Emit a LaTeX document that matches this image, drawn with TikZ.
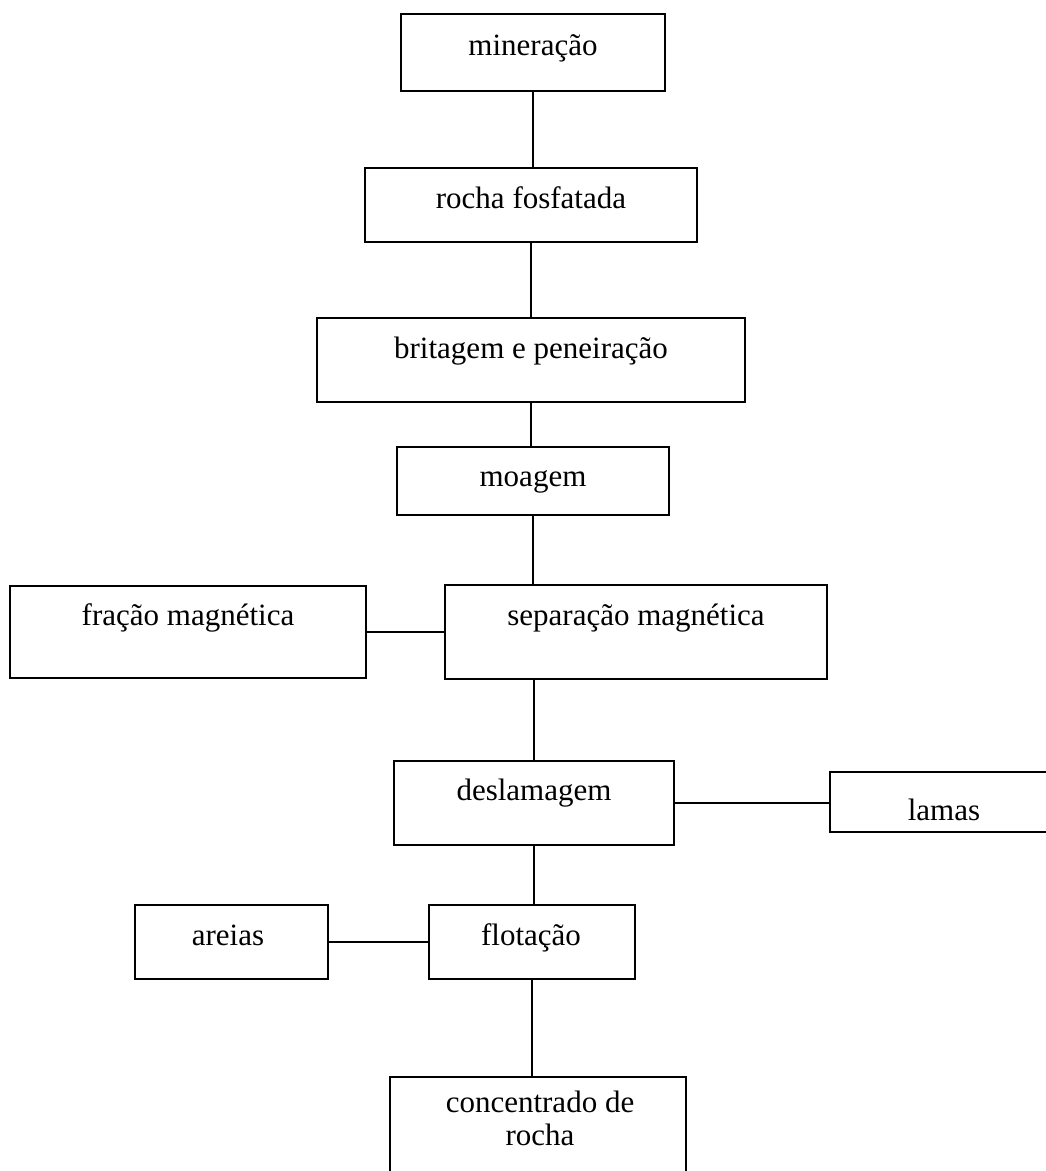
\documentclass[tikz,border=0pt]{standalone}
\usepackage{fontspec}
\setmainfont{Liberation Serif}
\begin{document}
\begin{tikzpicture}[x=1pt,y=-1pt,
  box/.style={draw, line width=1.8pt, inner sep=0pt, outer sep=0pt},
  lbl/.style={anchor=base, inner sep=0pt, font=\fontsize{31}{33}\selectfont},
  conn/.style={line width=1.8pt}]
\useasboundingbox (0,0) rectangle (1046,1171);
\begin{scope}
\clip (0,0) rectangle (1046,1171);
% process boxes (centre, width, height in px)
\node[box, minimum width=264pt, minimum height=77pt] (min) at (533,52.5) {};
\node[box, minimum width=332pt, minimum height=74pt] (roc) at (531,205) {};
\node[box, minimum width=428pt, minimum height=84pt] (bri) at (531,360) {};
\node[box, minimum width=272pt, minimum height=68pt] (moa) at (533,481) {};
\node[box, minimum width=356pt, minimum height=92pt] (fra) at (188,632) {};
\node[box, minimum width=382pt, minimum height=94pt] (sep) at (636,632) {};
\node[box, minimum width=280pt, minimum height=84pt] (des) at (534,803) {};
\node[box, minimum width=228pt, minimum height=60pt] (lam) at (944,802) {};
\node[box, minimum width=193pt, minimum height=74pt] (are) at (231.5,942) {};
\node[box, minimum width=206pt, minimum height=74pt] (flo) at (532,942) {};
\node[box, minimum width=296pt, minimum height=140pt] (con) at (538,1147) {};
\end{scope}
% labels
\node[lbl] (min-t) at (533,55) {mineração};
\node[lbl] (roc-t) at (531,208) {rocha fosfatada};
\node[lbl] (bri-t) at (531,358) {britagem e peneiração};
\node[lbl] (moa-t) at (533,486) {moagem};
\node[lbl] (fra-t) at (188,625) {fração magnética};
\node[lbl] (sep-t) at (636,625) {separação magnética};
\node[lbl] (des-t) at (534,800) {deslamagem};
\node[lbl] (lam-t) at (944,820) {lamas};
\node[lbl] (are-t) at (228,945) {areias};
\node[lbl] (flo-t) at (531,945) {flotação};
\node[lbl] (con-t) at (540,1112) {concentrado de};
\node[lbl] (con-t2) at (540,1145) {rocha};
% connectors
\draw[conn] (min.south) -- (min.south |- roc.north);
\draw[conn] (roc.south) -- (roc.south |- bri.north);
\draw[conn] (bri.south) -- (bri.south |- moa.north);
\draw[conn] (moa.south) -- (moa.south |- sep.north);
\draw[conn] (fra.east) -- (sep.west |- fra.east);
\draw[conn] (des.north |- sep.south) -- (des.north);
\draw[conn] (des.east) -- (lam.west |- des.east);
\draw[conn] (des.south) -- (des.south |- flo.north);
\draw[conn] (are.east) -- (flo.west |- are.east);
\draw[conn] (flo.south) -- (flo.south |- con.north);
\end{tikzpicture}
\end{document}
